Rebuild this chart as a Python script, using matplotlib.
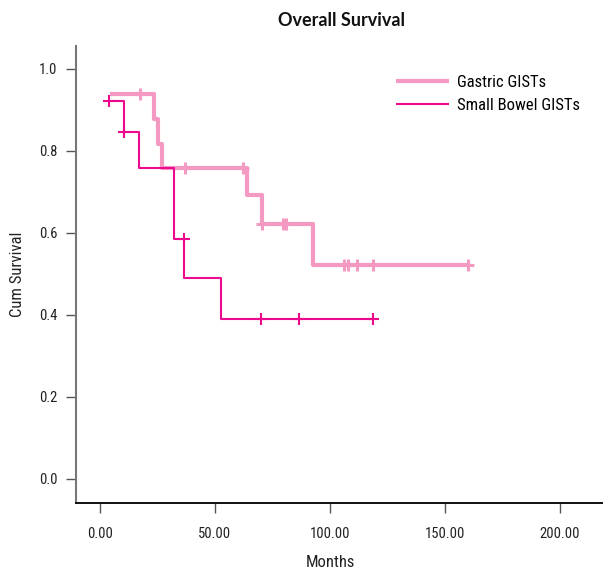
import matplotlib
matplotlib.use("Agg")
import matplotlib.pyplot as plt
from matplotlib import font_manager

# look for a narrow sans like the SPSS export uses
ttf = font_manager.fontManager.ttflist
names = {f.name for f in ttf}
narrow = None
for cand in ['Liberation Sans Narrow', 'Roboto Condensed', 'Open Sans Condensed', 'Noto Sans Display']:
    if cand in names:
        narrow = cand
        break
stretch = 'normal'
scale = 1.0
if narrow is None:
    cond = [f for f in ttf if f.name == 'DejaVu Sans' and 'ondensed' in f.fname]
    if cond:
        narrow = 'DejaVu Sans'
        stretch = 'condensed'
        scale = 0.92
    else:
        narrow = 'Liberation Sans'
        scale = 0.86
plt.rcParams['font.family'] = [narrow, 'DejaVu Sans']
plt.rcParams['font.stretch'] = stretch

## DATA ##
gastric_t = [5.1, 23.4, 25.3, 27.2, 64.0, 70.5, 92.6, 159.8]
gastric_s = [0.938, 0.879, 0.818, 0.759, 0.693, 0.622, 0.522, 0.522]
gastric_cens_t = [17.6, 37.2, 62.2, 70.3, 79.6, 81.1, 105.9, 107.8, 111.7, 118.8, 159.8]
gastric_cens_s = [0.938, 0.759, 0.759, 0.622, 0.622, 0.622, 0.522, 0.522, 0.522, 0.522, 0.522]

bowel_t = [3.9, 10.4, 17.1, 32.1, 36.6, 52.5, 118.8]
bowel_s = [0.923, 0.847, 0.759, 0.585, 0.489, 0.390, 0.390]
bowel_cens_t = [3.9, 10.4, 36.6, 69.9, 86.4, 118.8]
bowel_cens_s = [0.923, 0.847, 0.585, 0.390, 0.390, 0.390]

x_ticks = [0, 50, 100, 150, 200]
x_labels = ['0.00', '50.00', '100.00', '150.00', '200.00']
y_ticks = [0.0, 0.2, 0.4, 0.6, 0.8, 1.0]
y_labels = ['0.0', '0.2', '0.4', '0.6', '0.8', '1.0']

PINK = '#F49AC2'
MAGENTA = '#EC098D'

fig = plt.figure(figsize=(6.03, 5.83), dpi=100)
ax = fig.add_axes([76/603, 1-503/583, 527/603, (503-46)/583])

ax.step(gastric_t, gastric_s, where='post', color=PINK, lw=3.0, label='Gastric GISTs', zorder=2)
ax.plot(gastric_cens_t, gastric_cens_s, ls='none', marker='+', ms=9, mew=2.2, color=PINK, zorder=2)

ax.step(bowel_t, bowel_s, where='post', color=MAGENTA, lw=1.5, label='Small Bowel GISTs', zorder=3)
ax.plot(bowel_cens_t, bowel_cens_s, ls='none', marker='+', ms=9, mew=1.5, color=MAGENTA, zorder=3)

ax.set_xlim(-10.4, 218.7)
ax.set_ylim(-0.0593, 1.0561)

ax.set_xticks(x_ticks)
ax.set_xticklabels(x_labels)
ax.set_yticks(y_ticks)
ax.set_yticklabels(y_labels)
ax.tick_params(axis='both', labelsize=10.5*scale, length=7.2, width=1.0, color='#555555', labelcolor='#222222')
ax.tick_params(axis='x', pad=10)
ax.tick_params(axis='y', pad=6)

ax.spines['top'].set_visible(False)
ax.spines['right'].set_visible(False)
ax.spines['left'].set_color('#777777')
ax.spines['left'].set_linewidth(1.5)
ax.spines['bottom'].set_color('#111111')
ax.spines['bottom'].set_linewidth(1.4)

ax.set_xlabel('Months', fontsize=12*scale, color='#222222', labelpad=10)
ax.xaxis.label.set_x((330-76)/527)
ax.set_ylabel('Cum Survival', fontsize=12*scale, color='#222222', labelpad=10)

fig.text(341/603, 1-20.5/583, 'Overall Survival', ha='center', va='center',
         fontsize=13, fontweight='bold', family=['Lato', 'DejaVu Sans'], color='#111111')

leg = ax.legend(loc='upper left', bbox_to_anchor=((396-76)/527, (503-75)/457),
                frameon=False, fontsize=12*scale, handlelength=3.2/scale, handletextpad=0.45,
                labelspacing=0.45, borderpad=0, borderaxespad=0)
for line in leg.get_lines():
    line.set_solid_capstyle('butt')

fig.savefig('out.png', dpi=100)
